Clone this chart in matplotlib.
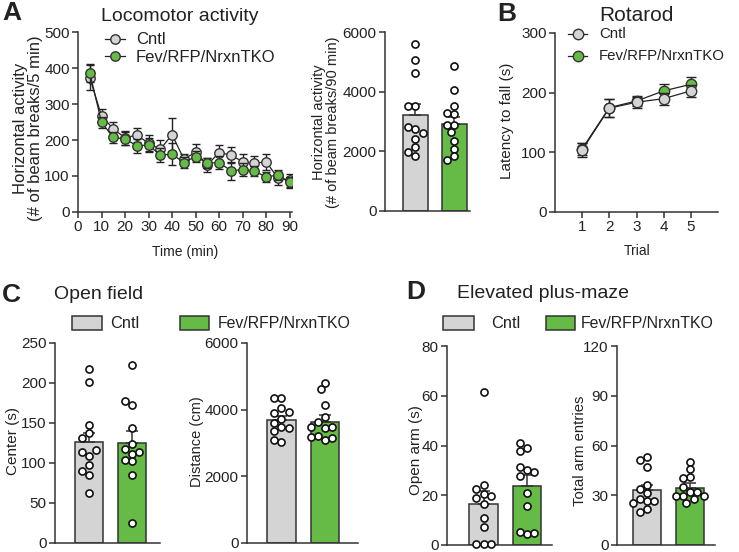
import numpy as np
import matplotlib
matplotlib.use("Agg")
import matplotlib.pyplot as plt
from matplotlib.patches import Rectangle
from matplotlib.lines import Line2D

plt.rcParams['font.family'] = ['Liberation Sans', 'DejaVu Sans']

# ---------------- data ----------------
groups = ["Cntl", "Fev/RFP/NrxnTKO"]

# A: locomotor activity time course (beam breaks / 5 min)
time_min = [5, 10, 15, 20, 25, 30, 35, 40, 45, 50, 55, 60, 65, 70, 75, 80, 85, 90]
loco_cntl = [373, 267, 231, 206, 214, 191, 174, 215, 147, 166, 131, 165, 158, 140, 135, 140, 94, 88]
loco_cntl_sem = [35, 18, 20, 20, 20, 22, 25, 45, 15, 22, 20, 22, 22, 22, 20, 22, 18, 18]
loco_tko = [387, 249, 207, 203, 184, 186, 158, 161, 137, 154, 136, 137, 115, 117, 114, 97, 103, 82]
loco_tko_sem = [25, 15, 15, 18, 20, 20, 20, 30, 15, 15, 15, 18, 25, 18, 15, 15, 15, 15]

# A: total beam breaks / 90 min
total_cntl = [5590, 5060, 4615, 3520, 3530, 2740, 2805, 2620, 2420, 2140, 1840, 1970]
total_tko = [4870, 4040, 3510, 3250, 3270, 2890, 2890, 2660, 2350, 2090, 1830, 1700]
total_mean = [3218, 2917]
total_sem = [370, 245]

# B: rotarod
trial = [1, 2, 3, 4, 5]
rot_cntl = [104, 174, 184, 190, 203]
rot_cntl_sem = [12, 15, 9, 10, 10]
rot_tko = [106, 175, 186, 203, 214]
rot_tko_sem = [10, 15, 8, 12, 13]

# C: open field
center_cntl = [218, 201, 147, 138, 131, 109, 114, 116, 97, 90, 85, 63]
center_tko = [222, 173, 177, 144, 124, 111, 118, 114, 102, 104, 85, 25]
center_mean = [126, 125]
center_sem = [12, 15]

dist_cntl = [4340, 4360, 4040, 3910, 3940, 3710, 3610, 3490, 3440, 3370, 3020, 3090]
dist_tko = [4810, 4610, 4140, 3790, 3620, 3440, 3470, 3470, 3090, 3210, 3160, 3170]
dist_mean = [3680, 3640]
dist_sem = [130, 200]

# D: elevated plus-maze
open_cntl = [61.4, 24.1, 22.4, 20.5, 19.7, 18.8, 16.5, 11.0, 7.4, 0.3, 0.3, 0.3]
open_tko = [39.1, 41.1, 37.8, 30.2, 31.5, 29.2, 27.9, 21.0, 15.7, 4.3, 5.3, 4.7]
open_mean = [16.5, 23.7]
open_sem = [5.2, 4.4]

entries_cntl = [53.3, 51.3, 46.9, 36.2, 33.6, 31.2, 26.7, 27.7, 26.7, 25.2, 21.5, 19.9]
entries_tko = [50.2, 45.8, 41.2, 40.2, 31.8, 35.2, 31.8, 29.7, 29.7, 29.7, 27.7, 25.2]
entries_mean = [33.2, 34.6]
entries_sem = [2.8, 3.0]

# ---------------- style ----------------
GREY = "#d4d4d4"
GREEN = "#66bb46"
EDGE = "#333333"
TXT = "#222222"

W, H = 739, 552
fig = plt.figure(figsize=(W / 100, H / 100), dpi=100)


def px_rect(left, top, right, bottom):
    return [left / W, 1 - bottom / H, (right - left) / W, (bottom - top) / H]


def ftext(x, y, s, **kw):
    kw.setdefault("color", TXT)
    fig.text(x / W, 1 - y / H, s, **kw)


def style(ax):
    for s in ["top", "right"]:
        ax.spines[s].set_visible(False)
    for s in ["left", "bottom"]:
        ax.spines[s].set_linewidth(1.1)
        ax.spines[s].set_color(EDGE)
    ax.tick_params(direction="out", length=4, width=1.1, labelsize=11,
                   colors=EDGE, labelcolor=TXT, pad=2)
    ax.patch.set_alpha(0)


def swarm(ax, xc, vals, d=7.2):
    # simple beeswarm in pixel space so dots don't overlap
    trans = ax.transData
    pts = trans.transform([(xc, v) for v in vals])
    placed = []
    for px, py in pts:
        for k in [0, -0.5, 0.5, -1, 1, -1.5, 1.5, -2, 2]:
            cx = px + k * d
            if all((cx - qx) ** 2 + (py - qy) ** 2 >= (d * 0.98) ** 2 for qx, qy in placed):
                break
        placed.append((cx, py))
    out = trans.inverted().transform(placed)
    ax.scatter(out[:, 0], out[:, 1], s=26, facecolor="white", edgecolor="#111111",
               linewidth=1.2, zorder=4, clip_on=False)


def bar_panel(rect, cntl, tko, means, sems, ylim, yticks, xlim):
    ax = fig.add_axes(px_rect(*rect))
    style(ax)
    ax.bar([0, 1], means, width=0.65, color=[GREY, GREEN], edgecolor=EDGE,
           linewidth=1.1, zorder=1)
    for x, m, s in zip([0, 1], means, sems):
        ax.errorbar(x, m, yerr=[[0], [s]], fmt="none", ecolor=EDGE, elinewidth=1.1,
                    capsize=4.5, capthick=1.1, zorder=2)
    ax.set_ylim(*ylim)
    ax.set_yticks(yticks)
    ax.set_xlim(*xlim)
    ax.set_xticks([])
    swarm(ax, 0, cntl)
    swarm(ax, 1, tko)
    return ax


# ---------------- A: time course ----------------
ax = fig.add_axes(px_rect(78, 32, 292, 212))
style(ax)
ax.errorbar(time_min, loco_cntl, yerr=loco_cntl_sem, fmt="-o", color="#222222", lw=0.9,
            mfc=GREY, mec=EDGE, ms=6.8, mew=1.0, ecolor="#222222", elinewidth=1.0,
            capsize=3.2, capthick=1.0, zorder=2)
ax.errorbar(time_min, loco_tko, yerr=loco_tko_sem, fmt="-o", color="#222222", lw=0.9,
            mfc=GREEN, mec=EDGE, ms=6.8, mew=1.0, ecolor="#222222", elinewidth=1.0,
            capsize=3.2, capthick=1.0, zorder=3)
ax.set_xlim(0, 91)
ax.set_ylim(0, 500)
ax.set_xticks(range(0, 91, 10))
ax.set_yticks(range(0, 501, 100))

# A: total
bar_panel((385, 32, 470, 211), total_cntl, total_tko, total_mean, total_sem,
          (0, 6000), [0, 2000, 4000, 6000], (-0.78, 1.40))

# B: rotarod
ax = fig.add_axes(px_rect(555, 33, 718, 212))
style(ax)
ax.errorbar(trial, rot_tko, yerr=rot_tko_sem, fmt="-o", color="#222222", lw=0.9,
            mfc=GREEN, mec=EDGE, ms=7.5, mew=1.0, ecolor="#222222", elinewidth=1.0,
            capsize=3.5, capthick=1.0, zorder=2)
ax.errorbar(trial, rot_cntl, yerr=rot_cntl_sem, fmt="-o", color="#222222", lw=0.9,
            mfc=GREY, mec=EDGE, ms=7.5, mew=1.0, ecolor="#222222", elinewidth=1.0,
            capsize=3.5, capthick=1.0, zorder=3)
ax.set_xlim(0, 6)
ax.set_ylim(0, 300)
ax.set_xticks(trial)
ax.set_yticks([0, 100, 200, 300])

# C
bar_panel((55, 343, 160, 543), center_cntl, center_tko, center_mean, center_sem,
          (0, 250), [0, 50, 100, 150, 200, 250], (-0.79, 1.65))
bar_panel((247, 343, 358, 543), dist_cntl, dist_tko, dist_mean, dist_sem,
          (0, 6000), [0, 2000, 4000, 6000], (-0.79, 1.76))

# D
bar_panel((447, 346, 552, 545), open_cntl, open_tko, open_mean, open_sem,
          (0, 80), [0, 20, 40, 60, 80], (-0.84, 1.57))
bar_panel((617, 346, 715, 545), entries_cntl, entries_tko, entries_mean, entries_sem,
          (0, 120), [0, 30, 60, 90, 120], (-0.70, 1.58))

# ---------------- titles / labels ----------------
ftext(2, 20, "A", fontsize=19, fontweight="bold", va="baseline")
ftext(101, 21, "Locomotor activity", fontsize=14, va="baseline")
ftext(497, 21, "B", fontsize=19, fontweight="bold", va="baseline")
ftext(599, 21, "Rotarod", fontsize=15, va="baseline")
ftext(2, 302, "C", fontsize=19, fontweight="bold", va="baseline")
ftext(54, 299, "Open field", fontsize=14, va="baseline")
ftext(406, 299, "D", fontsize=19, fontweight="bold", va="baseline")
ftext(457, 298, "Elevated plus-maze", fontsize=14, va="baseline")

ftext(28, 128, "Horizontal activity\n(# of beam breaks/5 min)", fontsize=12, rotation=90,
      ha="center", va="center", multialignment="center", linespacing=1.0)
ftext(326, 122, "Horizontal activity\n(# of beam breaks/90 min)", fontsize=10.5, rotation=90,
      ha="center", va="center", multialignment="center", linespacing=1.05)
ftext(507, 121, "Latency to fall (s)", fontsize=11, rotation=90, ha="center", va="center")
ftext(13, 441, "Center (s)", fontsize=11, rotation=90, ha="center", va="center")
ftext(197, 442, "Distance (cm)", fontsize=10.5, rotation=90, ha="center", va="center")
ftext(416, 450, "Open arm (s)", fontsize=11, rotation=90, ha="center", va="center")
ftext(580, 451, "Total arm entries", fontsize=10.7, rotation=90, ha="center", va="center")
ftext(185, 252, "Time (min)", fontsize=10, ha="center", va="center")
ftext(637, 251, "Trial", fontsize=10, ha="center", va="center")


# ---------------- legends ----------------
def line_key(x0, x1, y, fc, ms):
    fig.add_artist(Line2D([x0 / W, x1 / W], [1 - y / H, 1 - y / H], color="#222222", lw=0.9))
    fig.add_artist(Line2D([(x0 + x1) / 2 / W], [1 - y / H], marker="o", ms=ms, mfc=fc,
                          mec=EDGE, mew=1.0, lw=0))


def box_key(x0, x1, y0, y1, fc):
    fig.add_artist(Rectangle((x0 / W, 1 - y1 / H), (x1 - x0) / W, (y1 - y0) / H,
                             transform=fig.transFigure, facecolor=fc, edgecolor=EDGE, lw=1.1))


line_key(105, 125, 38.5, GREY, 6.8)
line_key(105, 125, 55.5, GREEN, 6.8)
ftext(136, 40, groups[0], fontsize=12, va="center")
ftext(136, 57, groups[1], fontsize=12, va="center")

line_key(568, 587, 33.5, GREY, 7.5)
line_key(568, 587, 56, GREEN, 7.5)
ftext(599, 34, groups[0], fontsize=10.8, va="center")
ftext(599, 56.5, groups[1], fontsize=10.8, va="center")

box_key(72, 102, 316, 330, GREY)
box_key(180, 209, 316, 330, GREEN)
ftext(110, 323.5, groups[0], fontsize=11.8, va="center")
ftext(218, 323.5, groups[1], fontsize=11.4, va="center")

box_key(443, 474, 316, 330, GREY)
box_key(546, 575, 316, 330, GREEN)
ftext(491, 323.5, groups[0], fontsize=11.8, va="center")
ftext(581, 323.5, groups[1], fontsize=11.4, va="center")

fig.savefig("out.png", dpi=100)
